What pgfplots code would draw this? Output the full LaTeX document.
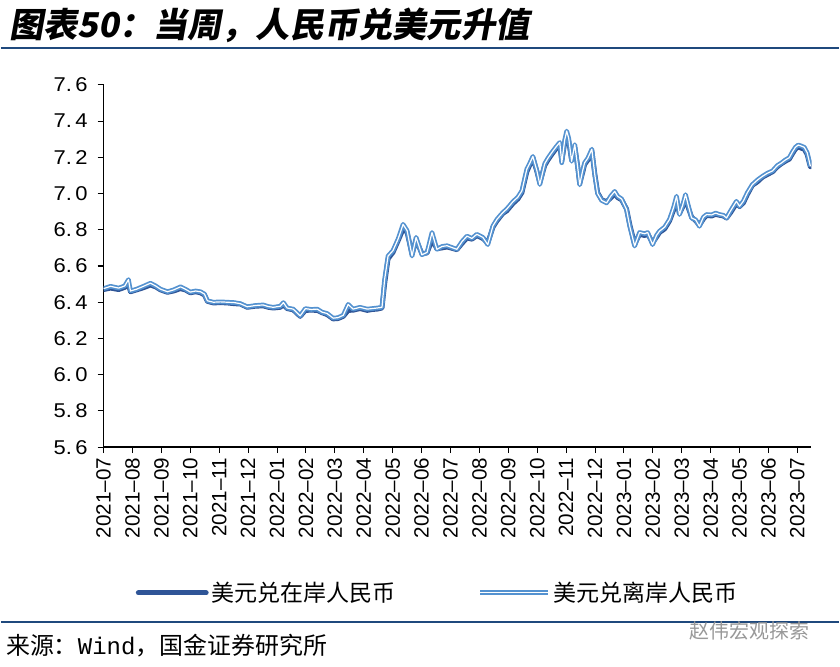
\documentclass[border=0pt]{standalone}
\usepackage{fontspec}
\setmainfont{Liberation Sans}
\newfontfamily\cjk{Noto Sans CJK SC}
\newfontfamily\titlefont{Noto Sans CJK SC}[FakeSlant=0.18]
\newfontfamily\tickfont{Liberation Sans}[FakeStretch=1.1]
\newfontfamily\monofont{Liberation Mono}
\usepackage{pgfplots}
\pgfplotsset{compat=1.18}
\definecolor{onshore}{RGB}{47,85,151}
\definecolor{offshore}{RGB}{84,146,208}
\definecolor{rulecol}{RGB}{31,73,125}

\begin{document}
\begin{tikzpicture}[x=0.75pt,y=0.75pt]
\path[fill=white] (0,0) rectangle (840,668);
% title and rules
\node[anchor=base west, inner sep=0] at (8,630) {\titlefont\bfseries\fontsize{25.7}{25.7}\selectfont 图表50：当周，人民币兑美元升值};
\draw[rulecol, line width=1.2pt] (0,620) -- (840,620);
\draw[rulecol, line width=1.2pt] (0,45) -- (840,45);
\node[anchor=base west, inner sep=0] at (5,12) {\cjk\fontsize{18}{18}\selectfont 来源：{\monofont Wind}，国金证券研究所};
\node[anchor=west, inner sep=0, text=black!40] at (690,36) {\cjk\fontsize{15}{15}\selectfont 赵伟宏观探索};

\begin{axis}[
  at={(77.25pt,165pt)}, anchor=south west,
  scale only axis, width=531.75pt, height=272.25pt,
  xmin=0, xmax=24.48, ymin=5.6, ymax=7.6,
  axis x line*=bottom, axis y line*=left,
  axis line style={-, line width=1pt, black},
  xtick={0,...,24},
  xticklabels={2021–07,2021–08,2021–09,2021–10,2021–11,2021–12,2022–01,2022–02,2022–03,2022–04,2022–05,2022–06,2022–07,2022–08,2022–09,2022–10,2022–11,2022–12,2023–01,2023–02,2023–03,2023–04,2023–05,2023–06,2023–07},
  ytick={5.6,5.8,6.0,6.2,6.4,6.6,6.8,7.0,7.2,7.4,7.6},
  /pgf/number format/assume math mode=true,
  tick align=outside, major tick length=4.5pt,
  tick style={black, line width=0.8pt},
  x tick label style={rotate=90, anchor=east, font=\fontsize{15.5}{15.5}\selectfont},
  y tick label style={font=\tickfont\fontsize{15}{15}\selectfont, xshift=-4pt,
    /pgf/number format/fixed, /pgf/number format/fixed zerofill,
    /pgf/number format/precision=1, /pgf/number format/dec sep={.\,}},
  legend style={at={(0.4725,-0.402)}, anchor=center, draw=none, fill=none,
    font=\cjk\fontsize{17.3}{17.3}\selectfont,
    /tikz/every even column/.append style={column sep=60pt}},
  legend columns=2,
  legend image code/.code={\draw[#1] (0pt,0pt) -- (51pt,0pt);},
]
\addplot[color=onshore, line width=3.7pt, line join=round, line cap=round] coordinates {
(0.00,6.470) (0.24,6.478) (0.52,6.470) (0.73,6.482) (0.86,6.498) (0.93,6.458)
(1.14,6.468) (1.38,6.480) (1.62,6.495) (1.80,6.485) (1.97,6.468) (2.21,6.455)
(2.42,6.462) (2.66,6.475) (2.83,6.468) (3.00,6.452) (3.18,6.458) (3.35,6.452)
(3.49,6.440) (3.59,6.405) (3.80,6.396) (4.04,6.398) (4.28,6.396) (4.52,6.392)
(4.73,6.390) (4.97,6.372) (5.25,6.378) (5.52,6.380) (5.70,6.372) (5.87,6.368)
(6.11,6.372) (6.22,6.385) (6.35,6.365) (6.56,6.358) (6.80,6.322) (6.98,6.355)
(7.18,6.356) (7.39,6.355) (7.56,6.342) (7.73,6.332) (7.94,6.308) (8.11,6.310)
(8.29,6.322) (8.46,6.355) (8.63,6.356) (8.87,6.365) (9.12,6.355) (9.29,6.360)
(9.46,6.362) (9.63,6.368) (9.72,6.500) (9.84,6.640) (10.01,6.675) (10.19,6.740)
(10.36,6.805) (10.50,6.785) (10.67,6.665) (10.81,6.745) (11.01,6.668) (11.19,6.672)
(11.36,6.745) (11.53,6.695) (11.71,6.700) (11.88,6.705) (12.05,6.698) (12.22,6.690)
(12.40,6.725) (12.57,6.755) (12.74,6.748) (12.91,6.768) (13.12,6.752) (13.29,6.728)
(13.47,6.815) (13.61,6.850) (13.81,6.890) (13.95,6.905) (14.16,6.945) (14.33,6.970)
(14.47,7.005) (14.64,7.120) (14.75,7.160) (14.85,7.198) (14.99,7.120) (15.09,7.060)
(15.26,7.155) (15.37,7.185) (15.50,7.215) (15.64,7.245) (15.78,7.270) (15.85,7.180)
(15.95,7.280) (16.02,7.320) (16.09,7.290) (16.19,7.185) (16.30,7.255) (16.40,7.150)
(16.47,7.055) (16.57,7.115) (16.64,7.160) (16.75,7.185) (16.89,7.235) (16.99,7.110)
(17.09,7.005) (17.23,6.965) (17.40,6.955) (17.54,6.975) (17.68,7.000) (17.78,6.978)
(17.92,6.965) (18.09,6.915) (18.20,6.830) (18.37,6.720) (18.54,6.775) (18.72,6.768)
(18.82,6.778) (18.99,6.728) (19.13,6.760) (19.23,6.785) (19.41,6.805) (19.58,6.850)
(19.72,6.910) (19.82,6.965) (19.92,6.890) (20.03,6.925) (20.13,6.975) (20.24,6.915)
(20.34,6.870) (20.48,6.850) (20.61,6.825) (20.75,6.860) (20.86,6.880) (21.03,6.876)
(21.17,6.885) (21.31,6.880) (21.44,6.876) (21.55,6.865) (21.69,6.895) (21.89,6.945)
(22.00,6.928) (22.13,6.948) (22.27,6.995) (22.44,7.045) (22.62,7.065) (22.79,7.090)
(22.96,7.105) (23.14,7.120) (23.31,7.148) (23.45,7.165) (23.58,7.178) (23.72,7.190)
(23.83,7.220) (23.93,7.245) (24.03,7.258) (24.14,7.250) (24.24,7.245) (24.34,7.215)
(24.41,7.170) (24.45,7.148)
};
\addlegendentry{美元兑在岸人民币}
\addplot[draw=offshore, line width=1.3pt, double=white, double distance=0.9pt, line join=round] coordinates {
(0.00,6.475) (0.24,6.488) (0.52,6.478) (0.73,6.490) (0.86,6.525) (0.93,6.462)
(1.14,6.472) (1.38,6.488) (1.62,6.505) (1.80,6.490) (1.97,6.472) (2.21,6.458)
(2.42,6.468) (2.66,6.485) (2.83,6.472) (3.00,6.456) (3.18,6.462) (3.35,6.458)
(3.49,6.445) (3.59,6.408) (3.80,6.400) (4.04,6.402) (4.28,6.400) (4.52,6.398)
(4.73,6.392) (4.97,6.375) (5.25,6.382) (5.52,6.385) (5.70,6.376) (5.87,6.372)
(6.11,6.378) (6.22,6.398) (6.35,6.368) (6.56,6.362) (6.80,6.325) (6.98,6.365)
(7.18,6.360) (7.39,6.362) (7.56,6.345) (7.73,6.338) (7.94,6.312) (8.11,6.315)
(8.29,6.328) (8.46,6.388) (8.63,6.362) (8.87,6.372) (9.12,6.362) (9.29,6.365)
(9.46,6.368) (9.63,6.372) (9.72,6.525) (9.84,6.655) (10.01,6.685) (10.19,6.750)
(10.36,6.830) (10.50,6.795) (10.67,6.655) (10.81,6.758) (11.01,6.662) (11.19,6.675)
(11.36,6.785) (11.53,6.692) (11.71,6.708) (11.88,6.712) (12.05,6.702) (12.22,6.692)
(12.40,6.735) (12.57,6.765) (12.74,6.752) (12.91,6.775) (13.12,6.758) (13.29,6.718)
(13.47,6.822) (13.61,6.858) (13.81,6.895) (13.95,6.915) (14.16,6.955) (14.33,6.980)
(14.47,7.015) (14.64,7.135) (14.75,7.170) (14.85,7.205) (14.99,7.125) (15.09,7.050)
(15.26,7.165) (15.37,7.195) (15.50,7.225) (15.64,7.255) (15.78,7.282) (15.85,7.170)
(15.95,7.295) (16.02,7.345) (16.09,7.305) (16.19,7.178) (16.30,7.270) (16.40,7.145)
(16.47,7.048) (16.57,7.125) (16.64,7.170) (16.75,7.195) (16.89,7.245) (16.99,7.105)
(17.09,7.000) (17.23,6.962) (17.40,6.948) (17.54,6.985) (17.68,7.012) (17.78,6.985)
(17.92,6.970) (18.09,6.912) (18.20,6.820) (18.37,6.710) (18.54,6.785) (18.72,6.778)
(18.82,6.785) (18.99,6.718) (19.13,6.770) (19.23,6.792) (19.41,6.815) (19.58,6.858)
(19.72,6.925) (19.82,6.985) (19.92,6.884) (20.03,6.935) (20.13,6.994) (20.24,6.925)
(20.34,6.865) (20.48,6.855) (20.61,6.819) (20.75,6.870) (20.86,6.884) (21.03,6.882)
(21.17,6.892) (21.31,6.884) (21.44,6.880) (21.55,6.865) (21.69,6.905) (21.89,6.957)
(22.00,6.930) (22.13,6.958) (22.27,7.005) (22.44,7.049) (22.62,7.075) (22.79,7.095)
(22.96,7.112) (23.14,7.125) (23.31,7.155) (23.45,7.169) (23.58,7.185) (23.72,7.198)
(23.83,7.230) (23.93,7.255) (24.03,7.268) (24.14,7.262) (24.24,7.255) (24.34,7.225)
(24.41,7.178) (24.45,7.150)
};
\addlegendentry{美元兑离岸人民币}
\end{axis}
\end{tikzpicture}
\end{document}
